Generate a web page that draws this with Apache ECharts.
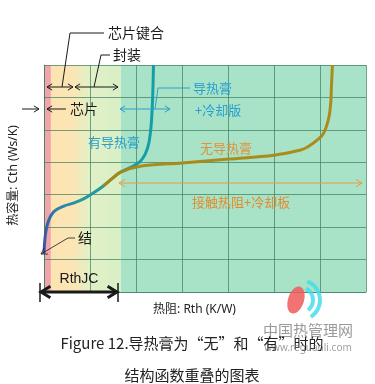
<!DOCTYPE html>
<html><head><meta charset="utf-8">
<script src="https://cdn.jsdelivr.net/npm/echarts@6/dist/echarts.min.js"></script>
<style>html,body{margin:0;padding:0;background:#fff}#c{width:375px;height:384px}</style>
</head><body><div id="c"></div>
<script>
// ---- data (axis units: 7 grid cells each way) ----
const xTicks = [0, 1, 2, 3, 4, 5, 6, 7];
const yTicks = [0, 1, 2, 3, 4, 5, 6, 7];
const withPasteX = [0.00, 0.03, 0.09, 0.21, 0.43, 0.64, 0.86, 1.07, 1.29, 1.50, 1.67, 1.89, 2.08, 2.20, 2.28, 2.33, 2.36, 2.38];
const withPasteY = [1.18, 1.76, 2.16, 2.47, 2.65, 2.74, 2.87, 3.05, 3.27, 3.52, 3.70, 3.85, 4.01, 4.25, 4.60, 5.15, 5.92, 7.00];
const noPasteX = [1.29, 1.50, 1.67, 2.15, 3.01, 4.02, 5.00, 5.58, 5.73, 5.97, 6.08, 6.18, 6.23, 6.25, 6.27];
const noPasteY = [3.27, 3.52, 3.70, 3.89, 3.98, 4.10, 4.22, 4.38, 4.47, 4.72, 4.90, 5.30, 5.77, 6.38, 7.00];
const bandEdges = [0, 0.15, 1.67, 7];   // 芯片 | 芯片键合+封装 | 导热膏+冷却版
const xName = '热阻: Rth (K/W)';
const yName = '热容量: Cth (Ws/K)';

const FONT = "'Noto Sans', 'Noto Sans CJK SC', sans-serif";
const CJK = "'Noto Sans CJK SC', sans-serif";
const pair = (xs, ys) => xs.map((x, i) => [x, ys[i]]);

const chart = echarts.init(document.getElementById('c'), null, {renderer: 'canvas'});

function head(x, y, ang, s, color, lw) {
  const a1 = ang + Math.PI - 0.55, a2 = ang + Math.PI + 0.55;
  return {type: 'polyline', z: 100, shape: {points: [[x + s * Math.cos(a1), y + s * Math.sin(a1)], [x, y], [x + s * Math.cos(a2), y + s * Math.sin(a2)]]},
    style: {stroke: color, lineWidth: lw, fill: null}};
}
function line(pts, color, lw) {
  return {type: 'polyline', z: 100, shape: {points: pts}, style: {stroke: color, lineWidth: lw, fill: null}};
}
function dbl(x1, x2, y, color, lw, s) {
  return [line([[x1, y], [x2, y]], color, lw), head(x1, y, Math.PI, s, color, lw), head(x2, y, 0, s, color, lw)];
}
function txt(x, y, t, color, size, align, family) {
  return {type: 'text', z: 100, x: x, y: y, style: {text: t, fill: color, font: size + 'px ' + (family || CJK), textAlign: align || 'left', textVerticalAlign: 'middle'}};
}

const K = '#1a1a1a', TEAL = '#2a9fd0', ORG = '#e59a45';
let g = [];
g.push(line([[104, 33], [70, 33], [62, 87]], K, 1));
g.push(txt(108, 33, '芯片键合', K, 14));
g = g.concat(dbl(47, 73, 87, K, 1, 6));
g.push(line([[110, 55], [101, 55], [94, 87]], K, 1));
g.push(txt(113, 55, '封装', K, 14));
g = g.concat(dbl(75, 118, 87, K, 1, 6));
g.push(line([[22, 109], [39, 109]], K, 1)); g.push(head(39, 109, 0, 6, K, 1));
g.push(line([[47, 109], [66, 109]], K, 1)); g.push(head(47, 109, Math.PI, 6, K, 1));
g.push(txt(70, 109, '芯片', K, 14));
g = g.concat(dbl(120, 170, 109, TEAL, 1, 6));
g.push(line([[155, 109], [158, 88], [190, 88]], TEAL, 1));
g.push(txt(193, 88, '导热膏', TEAL, 13));
g.push(txt(195, 110, '+冷却版', TEAL, 13));
g.push(txt(88, 142, '有导热膏', '#2a9ec8', 13));
g.push(txt(200, 148, '无导热膏', '#e0923a', 13));
g = g.concat(dbl(119, 362, 183, ORG, 1, 7));
g.push(txt(192, 202, '接触热阻+冷却板', '#e48a2c', 13));
g.push(line([[75, 238], [68, 238], [41, 254]], K, 0.8));
g.push(head(41, 254, Math.atan2(254 - 238, 41 - 68), 7, K, 0.8));
g.push(txt(78, 238, '结', K, 14));
g.push(txt(79, 279, 'RthJC', K, 14, 'center', "'Liberation Sans', Arial, sans-serif"));
g.push(line([[40, 283], [40, 302]], K, 1.5));
g.push(line([[118, 283], [118, 302]], K, 1.5));
g = g.concat(dbl(41, 117, 292, K, 3, 11));
g.push(txt(192, 343, 'Figure 12.导热膏为“无”和“有”时的', '#222', 15, 'center', CJK));
g.push(txt(192, 375, '结构函数重叠的图表', '#222', 15, 'center', CJK));
g.push({type: 'ellipse', z: 90, shape: {cx: 296, cy: 300, rx: 8, ry: 14}, rotation: -0.3, originX: 296, originY: 300, style: {fill: 'rgba(240,90,90,0.85)'}});
g.push({type: 'arc', z: 90, shape: {cx: 300, cy: 300, r: 20, startAngle: -1.2, endAngle: 1.0}, style: {stroke: 'rgba(70,220,235,0.85)', lineWidth: 4, fill: null}});
g.push({type: 'arc', z: 90, shape: {cx: 300, cy: 300, r: 13, startAngle: -1.1, endAngle: 0.9}, style: {stroke: 'rgba(70,220,235,0.85)', lineWidth: 4, fill: null}});
g.push(txt(308, 330, '中国热管理网', 'rgba(110,110,110,0.7)', 15, 'center', CJK));
g.push(txt(308, 348, 'www.reguanli.com', 'rgba(120,120,120,0.7)', 10, 'center', FONT));

const bandColors = [
  '#f2a4ab',
  {type: 'linear', x: 0, y: 0, x2: 1, y2: 0, colorStops: [{offset: 0, color: '#fce3b2'}, {offset: 0.3, color: '#fce5b4'}, {offset: 0.55, color: '#e2f0c6'}, {offset: 1, color: '#d8efc6'}]},
  '#a8e3c7'
];
const GL = 'rgba(60,125,95,0.7)';

const option = {
  animation: false,
  grid: {left: 40, right: 9, top: 65, bottom: 92},
  xAxis: {type: 'value', min: xTicks[0], max: xTicks[xTicks.length - 1], interval: 1, z: 3,
    name: xName, nameLocation: 'middle', nameGap: 12,
    nameTextStyle: {fontSize: 12, color: '#222', fontFamily: FONT, padding: [0, 21, 0, 0]},
    axisLine: {show: true, lineStyle: {color: GL, width: 1}}, axisTick: {show: false}, axisLabel: {show: false},
    splitLine: {show: true, lineStyle: {color: GL, width: 1}}},
  yAxis: {type: 'value', min: yTicks[0], max: yTicks[yTicks.length - 1], interval: 1, z: 3,
    name: yName, nameLocation: 'middle', nameGap: 24, nameRotate: 90,
    nameTextStyle: {fontSize: 12, color: '#222', fontFamily: FONT, padding: [0, 0, 0, 6]},
    axisLine: {show: true, lineStyle: {color: GL, width: 1}}, axisTick: {show: false}, axisLabel: {show: false},
    splitLine: {show: true, lineStyle: {color: GL, width: 1}}},
  series: [
    {type: 'line', name: 'bands', data: [], silent: true, z: 1,
      markArea: {silent: true, data: bandEdges.slice(0, -1).map((e, i) => [
        {xAxis: e, yAxis: yTicks[0], itemStyle: {color: bandColors[i]}},
        {xAxis: bandEdges[i + 1], yAxis: yTicks[yTicks.length - 1]}])}},
    {type: 'line', name: '有导热膏', data: pair(withPasteX, withPasteY), smooth: 0.35, symbol: 'none', z: 5,
      lineStyle: {width: 3, color: {type: 'linear', x: 0, y: 0, x2: 1, y2: 0, colorStops: [{offset: 0, color: '#3e4f9c'}, {offset: 0.12, color: '#2f7fab'}, {offset: 0.35, color: '#24999f'}, {offset: 1, color: '#139fa6'}]}}},
    {type: 'line', name: '无导热膏', data: pair(noPasteX, noPasteY), smooth: 0.35, symbol: 'none', z: 6,
      lineStyle: {width: 3, color: '#aa8714', opacity: 0.95}}
  ],
  graphic: g
};
chart.setOption(option);
</script></body></html>
